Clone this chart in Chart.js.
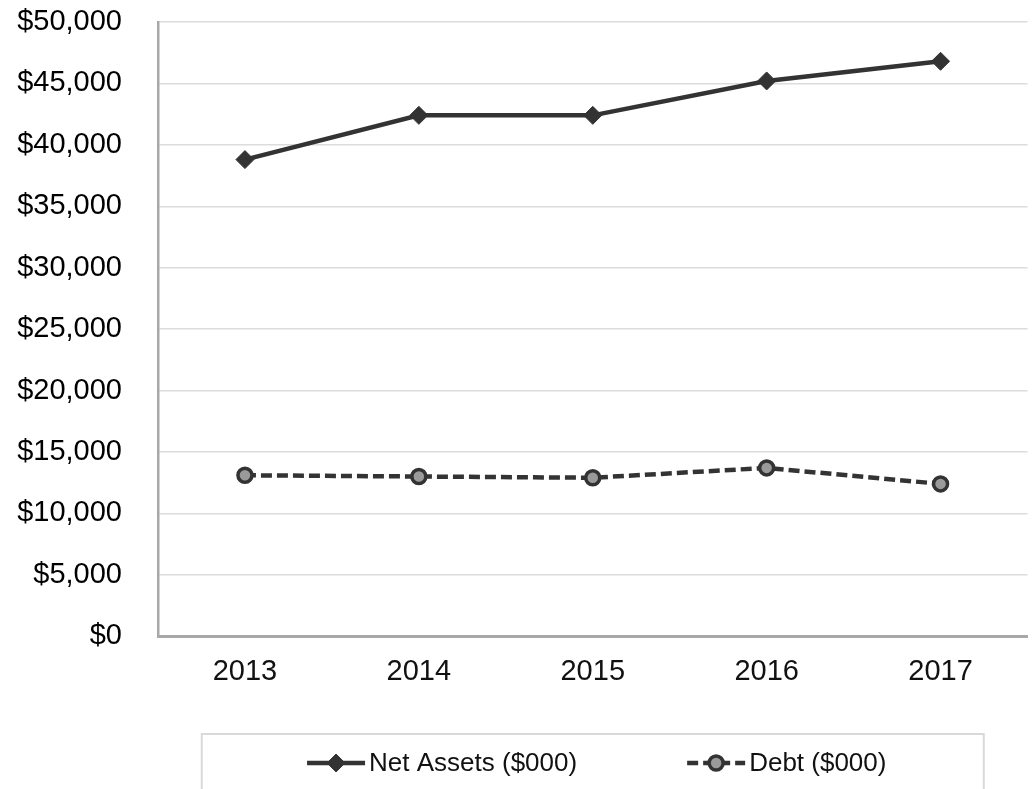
<!DOCTYPE html>
<html>
<head>
<meta charset="utf-8">
<script src="https://cdn.jsdelivr.net/npm/chart.js@4/dist/chart.umd.min.js"></script>
<style>
  html, body { margin: 0; padding: 0; background: #fff; overflow: hidden; }
  #wrap { position: relative; width: 1038px; height: 789px; }
</style>
</head>
<body>
<div id="wrap"><canvas id="assetsChart"></canvas></div>
<script>
// Values ($000)
const years = ["2013", "2014", "2015", "2016", "2017"];
const netAssets = [38800, 42400, 42400, 45200, 46800];
const debt = [13100, 13000, 12900, 13700, 12400];

const yMin = 0;
const yMax = 50000;
const yStep = 5000;

const ink = "#333333";
const legendFont = "26px 'Liberation Sans', Arial, sans-serif";

// Legend drawn inside a framed box below the axis, like the original
const boxedLegend = {
    id: "boxedLegend",
    afterDraw(chart) {
        const ctx = chart.ctx;
        const area = chart.chartArea;
        const cx = (area.left + area.right) / 2 + 4;
        const cy = chart.height - 26;
        const sampleW = 58;
        const textGap = 4;
        const gap = 110;

        ctx.save();
        // frame
        ctx.strokeStyle = "#d9d9d9";
        ctx.lineWidth = 2;
        ctx.strokeRect(cx - 395, chart.height - 55, 782, 80);

        ctx.font = legendFont;
        ctx.textBaseline = "middle";
        const items = chart.data.datasets.map(ds => ({ ds, w: sampleW + textGap + ctx.measureText(ds.label).width }));
        const total = items.reduce((s, it) => s + it.w, 0) + gap * (items.length - 1);
        let x = cx - total / 2;

        items.forEach(({ ds, w }) => {
            // line sample
            ctx.beginPath();
            ctx.setLineDash(ds.borderDash || []);
            ctx.strokeStyle = ds.borderColor;
            ctx.lineWidth = ds.borderWidth;
            ctx.moveTo(x, cy);
            ctx.lineTo(x + sampleW, cy);
            ctx.stroke();
            ctx.setLineDash([]);
            // marker
            ctx.fillStyle = ds.pointBackgroundColor;
            ctx.strokeStyle = ds.pointBorderColor;
            ctx.lineWidth = ds.pointBorderWidth;
            Chart.helpers.drawPoint(ctx, {
                pointStyle: ds.pointStyle,
                radius: ds.pointRadius,
                borderWidth: ds.pointBorderWidth,
                rotation: 0
            }, x + sampleW / 2, cy);
            // label
            ctx.fillStyle = "#111";
            ctx.fillText(ds.label, x + sampleW + textGap, cy + 1);
            x += w + gap;
        });
        ctx.restore();
    }
};

const ctx = document.getElementById("assetsChart").getContext("2d");

const chart = new Chart(ctx, {
    type: "line",
    data: {
        labels: years,
        datasets: [{
            label: "Net Assets ($000)",
            data: netAssets,
            borderColor: ink,
            borderWidth: 4.5,
            pointStyle: "rectRot",
            pointRadius: 9,
            pointBackgroundColor: ink,
            pointBorderColor: ink,
            pointBorderWidth: 1,
            tension: 0
        }, {
            label: "Debt ($000)",
            data: debt,
            borderColor: ink,
            borderWidth: 4.5,
            borderDash: [11, 5],
            pointStyle: "circle",
            pointRadius: 7,
            pointBackgroundColor: "#9a9a9a",
            pointBorderColor: ink,
            pointBorderWidth: 3.5,
            tension: 0
        }]
    },
    options: {
        responsive: true,
        maintainAspectRatio: false,
        animation: false,
        layout: {
            padding: { top: 22, right: 0, bottom: 82, left: 0 }
        },
        plugins: {
            legend: { display: false },
            tooltip: { enabled: false }
        },
        scales: {
            x: {
                offset: true,
                grid: { display: false, drawTicks: false },
                border: { display: true, color: "#a8a8a8", width: 3 },
                ticks: {
                    color: "#111",
                    padding: 18,
                    font: { family: "'Liberation Sans', Arial, sans-serif", size: 29 }
                }
            },
            y: {
                min: yMin,
                max: yMax,
                afterFit: (scale) => { scale.width = 158; },
                grid: { color: "#dcdcdc", lineWidth: 1.5, drawTicks: true, tickLength: 36, tickColor: "rgba(0,0,0,0)" },
                border: { display: true, color: "#a8a8a8", width: 2.5 },
                ticks: {
                    stepSize: yStep,
                    color: "#000",
                    padding: 0,
                    font: { family: "'Liberation Sans', Arial, sans-serif", size: 29 },
                    callback: (v) => "$" + v.toLocaleString("en-US")
                }
            }
        }
    },
    plugins: [boxedLegend]
});
</script>
</body>
</html>
